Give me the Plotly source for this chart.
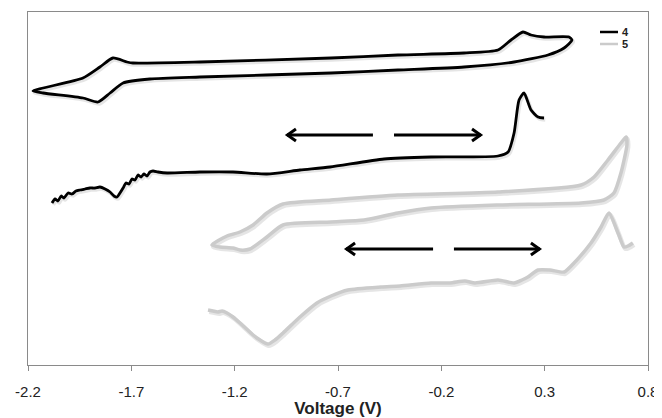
import numpy as np
import plotly.graph_objects as go

# ---- Data (voltage in V, current in arbitrary units, curves offset vertically) ----
cv4_v = [-2.176, -1.934, -1.852, -1.789, -1.721, -1.692, -1.368, -0.734, -0.410, -0.090,
         0.074, 0.137, 0.195, 0.234, 0.297, 0.418, 0.432,
         0.394, 0.316, 0.152, -0.090, -0.410, -0.734, -1.368, -1.610, -1.740, -1.803,
         -1.861, -1.934, -2.127, -2.176]
cv4_i = [274, 287, 298, 307, 303, 302, 303, 307, 310, 312,
         315, 325, 333, 330, 328, 328, 325,
         317, 310, 303, 298, 295, 292, 288, 286, 282, 272,
         263, 267, 272, 274]

lsv4_v = [-2.084, -2.069, -2.055, -2.040, -2.026, -2.006, -1.987, -1.968, -1.948, -1.924,
          -1.900, -1.876, -1.852, -1.827, -1.803, -1.784, -1.769, -1.755, -1.740, -1.726,
          -1.711, -1.697, -1.682, -1.668, -1.653, -1.639, -1.624, -1.610, -1.595, -1.571,
          -1.527, -1.368, -1.208, -1.044, -0.884, -0.739, -0.477, -0.250, 0.074, 0.123,
          0.152, 0.176, 0.200, 0.234, 0.268, 0.297]
lsv4_i = [162, 166, 164, 169, 167, 172, 171, 174, 175, 176,
          177, 177, 178, 176, 173, 169, 168, 172, 177, 182,
          181, 186, 185, 190, 188, 191, 189, 193, 194, 193,
          192, 193, 193, 191, 195, 198, 206, 208, 209, 213,
          232, 265, 272, 255, 248, 247]

cv5_v = [-1.310, -1.237, -1.174, -1.111, -1.044, -0.966, -0.734, -0.410, 0.074, 0.476,
         0.539, 0.606, 0.669, 0.694,
         0.698, 0.669, 0.635, 0.587, 0.476, 0.074, -0.250, -0.410, -0.574, -0.734,
         -0.966, -1.044, -1.126, -1.174, -1.208, -1.271, -1.310]
cv5_i = [120, 129, 133, 140, 152, 161, 165, 170, 173, 180,
         188, 205, 222, 228,
         220, 192, 172, 165, 162, 160, 157, 152, 145, 143,
         140, 128, 116, 115, 117, 118, 120]

lsv5_v = [-1.329, -1.305, -1.281, -1.261, -1.237, -1.208, -1.174, -1.111, -1.077, -1.039,
          -1.005, -0.966, -0.884, -0.802, -0.734, -0.652, -0.492, -0.400, -0.250, -0.158,
          -0.086, -0.037, 0.074, 0.152, 0.190, 0.219, 0.268, 0.326, 0.394, 0.442,
          0.524, 0.573, 0.611, 0.655, 0.684, 0.703, 0.727]
lsv5_i = [55, 54, 53, 54, 52, 48, 42, 30, 25, 21,
          25, 32, 48, 62, 69, 75, 78, 79, 82, 82,
          84, 82, 85, 82, 85, 88, 95, 95, 93, 102,
          122, 138, 152, 132, 118, 119, 122]

tick_vals = [-2.2, -1.7, -1.2, -0.7, -0.2, 0.3, 0.8]
tick_text = ["-2.2", "-1.7", "-1.2", "-0.7", "-0.2", "0.3", "0.8"]

# scan-direction arrows: (tail_v, head_v, level)
arrows = [(-0.531, -0.947, 230), (-0.429, -0.008, 230),
          (-0.240, -0.661, 116), (-0.139, 0.277, 116)]

legend_names = ["4", "5"]
BLACK = "#000000"
GRAY = "#cbcbcb"

fig = go.Figure()

curves = [(cv4_v, cv4_i, BLACK, 2.8), (lsv4_v, lsv4_i, BLACK, 2.8),
          (cv5_v, cv5_i, GRAY, 3.5), (lsv5_v, lsv5_i, GRAY, 3.5)]

# soft drop shadows
for xv, yv, col, w in curves:
    fig.add_trace(go.Scatter(x=np.array(xv) + 0.006, y=np.array(yv) - 1.8, mode="lines",
                             line=dict(color="rgba(0,0,0,0.10)", width=w + 1, shape="spline", smoothing=0.6),
                             hoverinfo="skip", showlegend=False))
for xv, yv, col, w in curves:
    fig.add_trace(go.Scatter(x=xv, y=yv, mode="lines",
                             line=dict(color=col, width=w, shape="spline", smoothing=0.6),
                             showlegend=False))

# arrows
for tail, head, lvl in arrows:
    fig.add_shape(type="line", x0=tail, x1=head, y0=lvl, y1=lvl, xref="x", yref="y",
                  line=dict(color=BLACK, width=3))
    d = 1 if tail > head else -1
    fig.add_shape(type="path", xref="x", yref="y", xsizemode="pixel", ysizemode="pixel",
                  xanchor=head, yanchor=lvl,
                  path=f"M {9*d} 6 L {0.5*d} 0 L {9*d} -6",
                  line=dict(color=BLACK, width=3))

# legend (drawn manually to match the short swatches)
for k, (name, col) in enumerate(zip(legend_names, [BLACK, GRAY])):
    yp = 1 - (20 + 12 * k) / 353
    fig.add_shape(type="line", xref="paper", yref="paper",
                  x0=(600 - 28) / 620, x1=(618 - 28) / 620, y0=yp, y1=yp,
                  line=dict(color=col, width=2.5))
    fig.add_annotation(x=(620 - 28) / 620, y=yp, xref="paper", yref="paper", text=f"<b>{name}</b>",
                       showarrow=False, xanchor="left", yanchor="middle",
                       font=dict(size=11, color="#222", family="Arial, Liberation Sans, sans-serif"))

# the page body has an 8px margin, so the figure is sized to fit inside the 662x418 window
fig.update_layout(
    width=654, height=410,
    margin=dict(l=20, r=14, t=4, b=53),
    paper_bgcolor="white", plot_bgcolor="white",
    showlegend=False,
    font=dict(family="Arial, Liberation Sans, sans-serif", color="#222"),
    xaxis=dict(range=[-2.2, 0.8], tickvals=tick_vals, ticktext=tick_text,
               showgrid=False, zeroline=False, showline=True, mirror=True,
               linecolor="#8a8a8a", linewidth=1.2, ticks="outside", ticklen=5,
               tickcolor="#8a8a8a", tickfont=dict(size=15), ticklabelstandoff=8,
               automargin=False,
               title=dict(text="<b>Voltage (V)</b>", font=dict(size=17), standoff=1)),
    yaxis=dict(range=[0, 353], showticklabels=False, showgrid=False, zeroline=False,
               showline=True, mirror=True, linecolor="#8a8a8a", linewidth=1.2, ticks=""),
)

fig.write_html("out.html")
